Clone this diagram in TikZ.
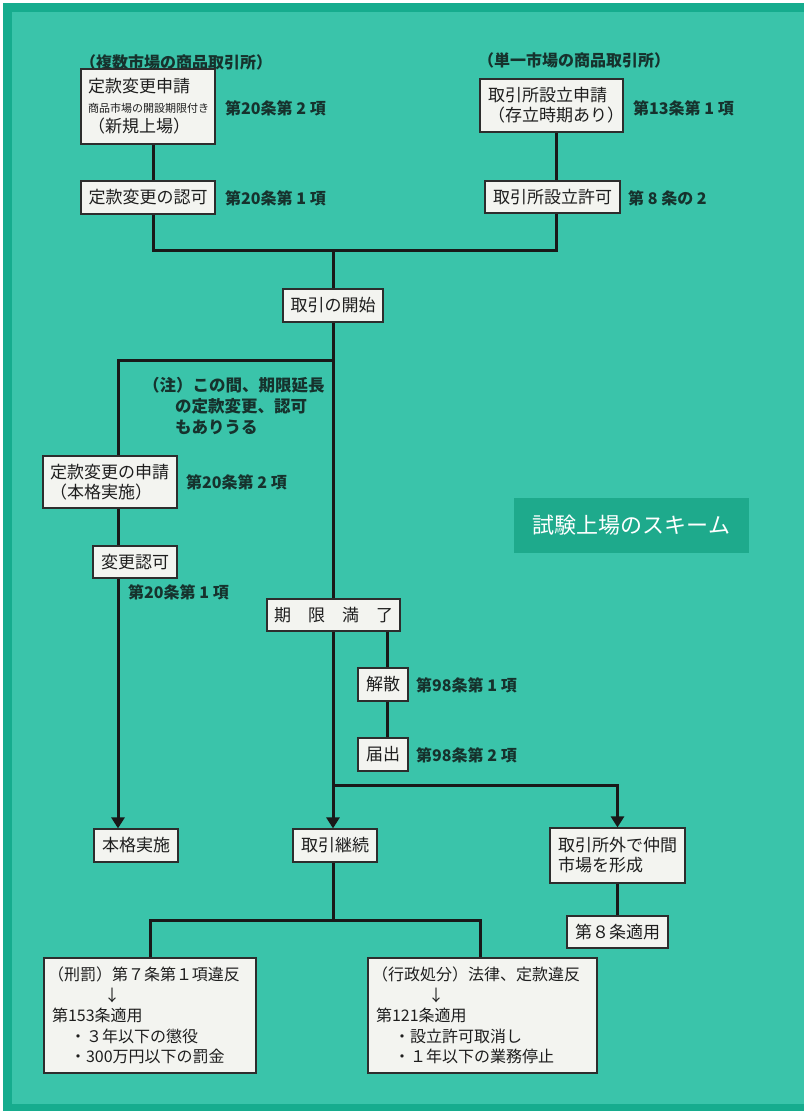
\documentclass[tikz,border=0pt]{standalone}
\usepackage{fontspec}
\setmainfont{Noto Sans CJK JP}
\usetikzlibrary{arrows.meta}
\definecolor{bgteal}{RGB}{58,196,170}
\definecolor{bordteal}{RGB}{22,172,142}
\definecolor{titleteal}{RGB}{30,170,140}
\definecolor{boxfill}{RGB}{243,244,240}
\definecolor{boxline}{RGB}{45,45,45}
\definecolor{txt}{RGB}{30,30,30}
\definecolor{lbltxt}{RGB}{22,50,45}
\tikzset{
  box/.style={draw=boxline, fill=boxfill, line width=1.2pt, inner sep=0pt,
    font=\fontsize{17}{20}\selectfont, text=txt},
  lbox/.style={box, align=left, inner xsep=7pt},
  lbl/.style={anchor=west, inner sep=0pt, font=\bfseries\fontsize{16}{20}\selectfont, text=lbltxt},
  conn/.style={line width=3pt, draw=black!90},
  arr/.style={conn, -{Triangle[width=13pt,length=11pt]}},
}
\begin{document}
\begin{tikzpicture}[x=1pt,y=-1pt]
\useasboundingbox (0,0) rectangle (804,1111);
\fill[white] (0,0) rectangle (804,1111);
\fill[bordteal] (3,3) rectangle (804,1111);
\fill[bgteal] (12,12) rectangle (804,1104);

% title
\node[fill=titleteal, minimum width=235pt, minimum height=55pt, inner sep=0pt,
  text=white, font=\fontsize{22}{24}\selectfont] (title) at (631.5,525.5) {試験上場のスキーム};

% group labels
\node[lbl] (g1) at (80,62) {（複数市場の商品取引所）};
\node[lbl] (g2) at (478,60) {（単一市場の商品取引所）};

% boxes
\node[lbox, text width=120pt, minimum height=75pt] (b1) at (148,106.5)
  {定款変更申請\\{\fontsize{11}{20}\selectfont 商品市場の開設期限付き}\\（新規上場）};
\node[box, minimum width=134pt, minimum height=33pt] (b2) at (148,197.5) {定款変更の認可};
\node[lbox, inner xsep=8pt, text width=127pt, minimum height=53pt] (b3) at (551.5,105.5)
  {取引所設立申請\\（存立時期あり）};
\node[box, minimum width=135pt, minimum height=32pt] (b4) at (552.5,197) {取引所設立許可};
\node[box, minimum width=100pt, minimum height=33pt] (b5) at (333,305.5) {取引の開始};
\node[lbox, text width=120pt, minimum height=52pt] (b6) at (110,482)
  {定款変更の申請\\（本格実施）};
\node[box, minimum width=84pt, minimum height=32pt] (b7) at (135,562) {変更認可};
\node[box, minimum width=133pt, minimum height=32pt] (b8) at (333.5,615)
  {期\hspace{1em}限\hspace{1em}満\hspace{1em}了};
\node[box, minimum width=50pt, minimum height=33pt] (b9) at (383,684.5) {解散};
\node[box, minimum width=50pt, minimum height=33pt] (b10) at (383,754.5) {届出};
\node[box, minimum width=84pt, minimum height=33pt] (b11) at (136,845.5) {本格実施};
\node[box, minimum width=84pt, minimum height=33pt] (b12) at (335,845.5) {取引継続};
\node[lbox, inner xsep=8pt, text width=119pt, minimum height=55pt] (b13) at (617.5,855.5)
  {取引所外で仲間\\市場を形成};
\node[box, minimum width=101pt, minimum height=32pt] (b14) at (617.5,932) {第８条適用};
\node[lbox, inner xsep=4pt, text width=204pt, minimum height=115pt,
  font=\fontsize{16}{20.5}\selectfont] (b15) at (150,1015.5)
  {（刑罰）第７条第１項違反\\\hspace*{56pt}↓\\\hspace*{4pt}第153条適用\\\hspace*{22pt}・３年以下の懲役\\\hspace*{22pt}・300万円以下の罰金};
\node[lbox, inner xsep=4pt, text width=221pt, minimum height=115pt,
  font=\fontsize{16}{20.5}\selectfont] (b16) at (482.5,1015.5)
  {（行政処分）法律、定款違反\\\hspace*{56pt}↓\\\hspace*{4pt}第121条適用\\\hspace*{22pt}・設立許可取消し\\\hspace*{22pt}・１年以下の業務停止};

% article labels
\node[lbl] (l1) at (225,108) {第20条第 2 項};
\node[lbl] (l2) at (225,198) {第20条第 1 項};
\node[lbl] (l3) at (633,108) {第13条第 1 項};
\node[lbl] (l4) at (628,198) {第 8 条の 2};
\node[lbl] (l5) at (186,482) {第20条第 2 項};
\node[lbl] (l6) at (128,592) {第20条第 1 項};
\node[lbl] (l7) at (416,685) {第98条第 1 項};
\node[lbl] (l8) at (416,755) {第98条第 2 項};
\node[lbl, anchor=north west, align=left, font=\bfseries\fontsize{16.5}{21}\selectfont] (note) at (143,377)
  {（注）この間、期限延長\\\hspace*{32pt}の定款変更、認可\\\hspace*{32pt}もありうる};

% junctions
\coordinate (jM) at (333,250);
\coordinate (jN) at (333,360);
\coordinate (jK) at (333,785);
\coordinate (jT) at (333,920);

% connectors
\draw[conn] ([xshift=5pt]b1.south) -- ([xshift=5pt]b2.north);
\draw[conn] ([xshift=4.5pt]b3.south) -- ([xshift=3.5pt]b4.north);
\draw[conn] ([xshift=5pt]b2.south) |- (jM) -| ([xshift=3.5pt]b4.south);
\draw[conn] (jM) -- (b5.north);
\draw[conn] (b5.south) -- (b5.south |- b8.north);
\draw[conn] (jN) -| ([xshift=8pt]b6.north);
\draw[conn] ([xshift=8pt]b6.south) -- ([xshift=-17pt]b7.north);
\draw[arr] ([xshift=-17pt]b7.south) -- ([xshift=-18pt]b11.north);
\draw[arr] (b5.south |- b8.south) -- (b5.south |- b12.north);
\draw[conn] ([xshift=53.5pt]b8.south) -- ([xshift=4pt]b9.north);
\draw[conn] ([xshift=4pt]b9.south) -- ([xshift=4pt]b10.north);
\draw[arr] (jK) -| (b13.north);
\draw[conn] (b13.south) -- (b14.north);
\draw[conn] (b12.south -| jT) -- (jT);
\draw[conn] (b15.north) |- (jT) -| ([xshift=-2.5pt]b16.north);
\end{tikzpicture}
\end{document}
